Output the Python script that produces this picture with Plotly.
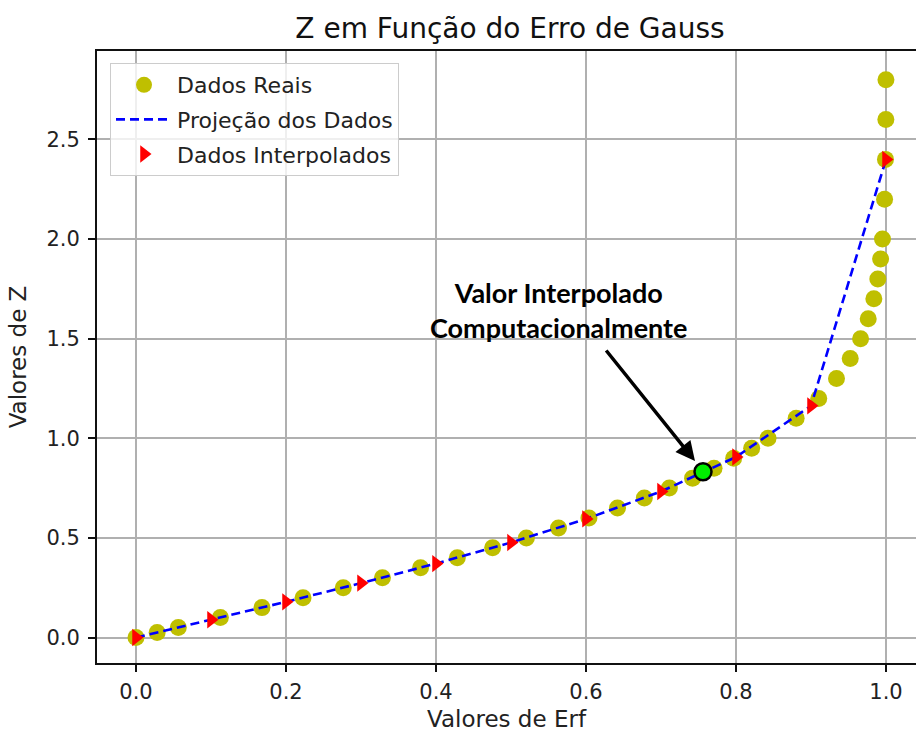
import plotly.graph_objects as go

# Real data (erf value, z value)
erf_real = [0.0, 0.0282, 0.0564, 0.1125, 0.1680, 0.2227, 0.2763, 0.3286, 0.3794,
            0.4284, 0.4755, 0.5205, 0.5633, 0.6039, 0.6420, 0.6778, 0.7112, 0.7421,
            0.7707, 0.7969, 0.8209, 0.8427, 0.8802, 0.9103, 0.9340, 0.9523, 0.9661,
            0.9763, 0.9838, 0.9891, 0.9928, 0.9953, 0.9981, 0.9993, 0.9998, 0.9999]
z_real = [0.0, 0.025, 0.05, 0.1, 0.15, 0.2, 0.25, 0.3, 0.35, 0.4, 0.45, 0.5, 0.55,
          0.6, 0.65, 0.7, 0.75, 0.8, 0.85, 0.9, 0.95, 1.0, 1.1, 1.2, 1.3, 1.4, 1.5,
          1.6, 1.7, 1.8, 1.9, 2.0, 2.2, 2.4, 2.6, 2.8]

# Interpolated data
erf_interp = [0.0, 0.1, 0.2, 0.3, 0.4, 0.5, 0.6, 0.7, 0.8, 0.9, 1.0]
z_interp = [0.0, 0.089, 0.179, 0.273, 0.371, 0.477, 0.595, 0.733, 0.906, 1.163, 2.4]

# Computed point
erf_point = [0.756]
z_point = [0.832]

x_ticks = [0.0, 0.2, 0.4, 0.6, 0.8, 1.0]
y_ticks = [0.0, 0.5, 1.0, 1.5, 2.0, 2.5]

FONT = "DejaVu Sans"
W, H = 916, 732
L, R, T, B = 97, 0, 51, 69

fig = go.Figure()
fig.add_trace(go.Scatter(
    x=erf_real, y=z_real, mode="markers", name="Dados Reais", legendgroup="a",
    marker=dict(color="#bfbf00", size=17, line=dict(width=0)),
))
fig.add_trace(go.Scatter(
    x=erf_interp, y=z_interp, mode="lines", name="Projeção dos Dados", legendgroup="b",
    line=dict(color="#0000ff", width=2.6, dash="9px,5px"),
))
fig.add_trace(go.Scatter(
    x=erf_interp, y=z_interp, mode="markers", name="Dados Interpolados", legendgroup="c",
    marker=dict(color="#ff0000", symbol="triangle-right", size=15, line=dict(width=0)),
))
fig.add_trace(go.Scatter(
    x=erf_point, y=z_point, mode="markers", showlegend=False,
    marker=dict(color="#00ee00", size=17, line=dict(color="black", width=2.5)),
))

axis_common = dict(
    showgrid=True, gridcolor="#b0b0b0", gridwidth=1.6,
    showline=True, linecolor="#111111", linewidth=2,
    ticks="outside", ticklen=7, tickwidth=1.5, tickcolor="#111111",
    zeroline=False, automargin=False,
    tickfont=dict(family=FONT, size=21, color="#222222"),
)

fig.update_layout(
    width=W, height=H,
    margin=dict(l=L, r=R, t=T, b=B, autoexpand=False),
    paper_bgcolor="white", plot_bgcolor="white",
    title=dict(text="Z em Função do Erro de Gauss", font=dict(family=FONT, size=28, color="#111111"),
               x=510 / W, xref="container", xanchor="center", y=1 - 28 / H, yanchor="middle"),
    xaxis=dict(range=[-0.052, 1.04], tickvals=x_ticks, ticktext=[f"{v:.1f}" for v in x_ticks],
               mirror=True, ticklabelstandoff=2,
               title=dict(text="Valores de Erf", font=dict(family=FONT, size=23, color="#222222"), standoff=21),
               **axis_common),
    yaxis=dict(range=[-0.128, 2.944], tickvals=y_ticks, ticktext=[f"{v:.1f}" for v in y_ticks],
               mirror=False, ticklabelstandoff=4,
               title=dict(text="Valores de Z", font=dict(family=FONT, size=23, color="#222222"), standoff=13),
               **axis_common),
    legend=dict(x=(110 - L) / (W - L - R), y=(H - B - 63) / (H - T - B), xanchor="left", yanchor="top",
                bgcolor="rgba(255,255,255,0.8)", bordercolor="#cccccc", borderwidth=1,
                font=dict(family=FONT, size=22, color="#222222"), tracegroupgap=3,
                itemwidth=56),
    showlegend=True,
)

# Annotation text
fig.add_annotation(
    x=0.563, y=(637.5 - 310) / 199.2, xref="x", yref="y",
    text="<b>Valor Interpolado</b><br><b>Computacionalmente</b>",
    showarrow=False, font=dict(family="Lato", size=27, color="black"),
    align="center", xanchor="center", yanchor="middle",
)
# Arrow
fig.add_annotation(
    x=0.7453, y=0.886, xref="x", yref="y", text="",
    showarrow=True, axref="pixel", ayref="pixel", ax=-90, ay=-112,
    arrowhead=2, arrowsize=1.1, arrowwidth=3.5, arrowcolor="black",
)

fig.write_html("out.html", config={"displayModeBar": False},
               post_script="document.body.style.margin='0';document.body.style.overflow='hidden';")
